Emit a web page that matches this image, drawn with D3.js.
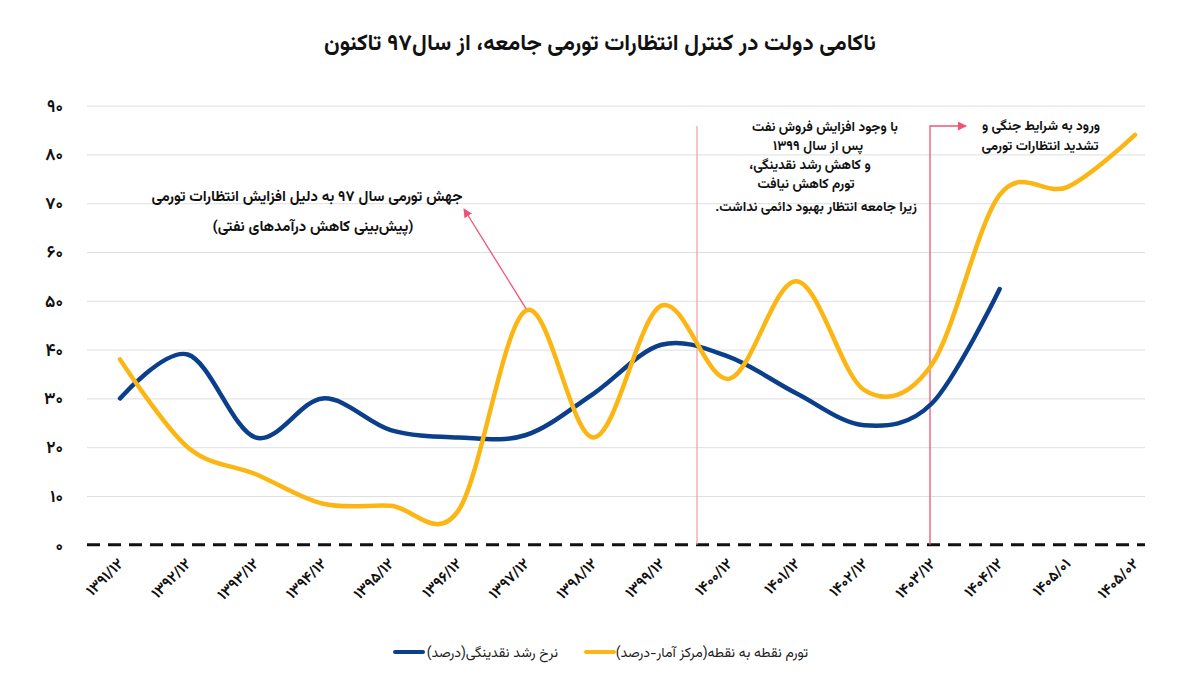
<!DOCTYPE html>
<html>
<head>
<meta charset="utf-8">
<script src="https://cdn.jsdelivr.net/npm/d3@7"></script>
<style>
  body { margin: 0; background: #fff; }
  svg text { font-family: "Vazirmatn", "Noto Sans Arabic", "DejaVu Sans", sans-serif; }
</style>
</head>
<body>
<div id="grafico"></div>
<script>
// categories (x axis) and the two series
var categories = ["۱۳۹۱/۱۲", "۱۳۹۲/۱۲", "۱۳۹۳/۱۲", "۱۳۹۴/۱۲", "۱۳۹۵/۱۲", "۱۳۹۶/۱۲", "۱۳۹۷/۱۲", "۱۳۹۸/۱۲",
  "۱۳۹۹/۱۲", "۱۴۰۰/۱۲", "۱۴۰۱/۱۲", "۱۴۰۲/۱۲", "۱۴۰۳/۱۲", "۱۴۰۴/۱۲", "۱۴۰۵/۰۱", "۱۴۰۵/۰۲"]
var liquidity = [30, 39, 22, 30, 23.5, 22, 22.5, 31, 41, 38.5, 31, 24.5, 29, 52.4]
var inflation = [38, 20, 14.5, 8.4, 8, 7, 48, 22, 49, 34, 54, 31.7, 37, 71.7, 73.3, 84]
var yTicks = [0, 10, 20, 30, 40, 50, 60, 70, 80, 90]

var seriesNames = ["تورم نقطه به نقطه(مرکز آمار-درصد)", "نرخ رشد نقدینگی(درصد)"]
var title = "ناکامی دولت در کنترل انتظارات تورمی جامعه، از سال۹۷ تاکنون"

var width = 1200,
    height = 674
var blue = "#0b3f8c", yellow = "#fbb614", pink = "#ee5575"

// persian digits
function fa(s) {
  return String(s).replace(/[0-9]/g, function(d) { return "۰۱۲۳۴۵۶۷۸۹"[+d] })
}

var svg = d3.select("#grafico")
  .append("svg")
    .attr("width", width)
    .attr("height", height)

svg.append("defs").append("marker")
    .attr("id", "arr")
    .attr("viewBox", "0 0 10 10")
    .attr("refX", 9).attr("refY", 5)
    .attr("markerWidth", 9).attr("markerHeight", 9)
    .attr("markerUnits", "userSpaceOnUse")
    .attr("orient", "auto")
  .append("path")
    .attr("d", "M0,0L10,5L0,10z")
    .attr("fill", pink)

var x = d3.scalePoint().domain(categories).range([120, 1135])
var y = d3.scaleLinear().domain([0, 90]).range([544.8, 105.6])

// title
svg.append("text")
  .attr("x", 600).attr("y", 50)
  .attr("text-anchor", "middle")
  .attr("direction", "rtl")
  .attr("font-size", 22.5)
  .attr("font-weight", "bold")
  .attr("fill", "#111")
  .text(title)

// grid + y labels
var yAxis = d3.axisLeft(y).tickValues(yTicks).tickSize(-(1145 - 87)).tickFormat(fa)
var gy = svg.append("g")
  .attr("transform", "translate(87,0)")
  .call(yAxis)
gy.select(".domain").remove()
gy.selectAll(".tick line")
  .attr("stroke", function(d) { return d === 0 ? "none" : "#dfdfdf" })
gy.selectAll(".tick text")
  .attr("x", -24)
  .attr("font-size", 17)
  .attr("font-weight", "bold")
  .attr("fill", "#111")

// dashed zero line
svg.append("line")
  .attr("x1", 87).attr("x2", 1145)
  .attr("y1", y(0)).attr("y2", y(0))
  .attr("stroke", "#111")
  .attr("stroke-width", 3)
  .attr("stroke-dasharray", "13,8")

// x labels
var xAxis = d3.axisBottom(x).tickSize(0).tickFormat(function(d) { return d })
var gx = svg.append("g")
  .attr("transform", "translate(0," + y(0) + ")")
  .call(xAxis)
gx.select(".domain").remove()
gx.selectAll(".tick text")
  .attr("text-anchor", "end")
  .attr("font-size", 15)
  .attr("font-weight", "bold")
  .attr("fill", "#111")
  .attr("transform", "translate(0,16) rotate(-45)")
  .attr("dy", "0.35em")
  .attr("y", 0)

// pink annotation lines
svg.append("line")
  .attr("x1", 697).attr("x2", 697)
  .attr("y1", 126).attr("y2", y(0))
  .attr("stroke", "#f3a0b2").attr("stroke-width", 1.3)
svg.append("path")
  .attr("d", "M930," + y(0) + "V126H966")
  .attr("fill", "none")
  .attr("stroke", pink).attr("stroke-width", 1.3)
  .attr("marker-end", "url(#arr)")

// lines
var line = d3.line()
  .x(function(d, i) { return x(categories[i]) })
  .y(function(d) { return y(d) })
  .curve(d3.curveCardinal.tension(0))

svg.append("path")
  .datum(liquidity)
  .attr("d", line)
  .attr("fill", "none")
  .attr("stroke", blue)
  .attr("stroke-width", 4.5)
  .attr("stroke-linecap", "round")

svg.append("path")
  .datum(inflation)
  .attr("d", line)
  .attr("fill", "none")
  .attr("stroke", yellow)
  .attr("stroke-width", 4.5)
  .attr("stroke-linecap", "round")

// arrow to the 97 jump
svg.append("line")
  .attr("x1", x(categories[6])).attr("y1", y(inflation[6]) - 2)
  .attr("x2", 464).attr("y2", 209)
  .attr("stroke", pink).attr("stroke-width", 1.3)
  .attr("marker-end", "url(#arr)")

// annotation texts
function note(lines, size) {
  lines.forEach(function(l) {
    svg.append("text")
      .attr("x", l[0]).attr("y", l[1])
      .attr("text-anchor", "middle")
      .attr("direction", "rtl")
      .attr("font-size", size)
      .attr("font-weight", "bold")
      .attr("fill", "#111")
      .text(l[2])
  })
}
note([
  [307, 201, "جهش تورمی سال ۹۷ به دلیل افزایش انتظارات تورمی"],
  [313, 231, "(پیش‌بینی کاهش درآمدهای نفتی)"]
], 15)
note([
  [825, 131, "با وجود افزایش فروش نفت"],
  [818, 150, "پس از سال ۱۳۹۹"],
  [810, 169, "و کاهش رشد نقدینگی،"],
  [806, 188, "تورم کاهش نیافت"],
  [816, 211, "زیرا جامعه انتظار بهبود دائمی نداشت."]
], 13.5)
note([
  [1041, 130, "ورود به شرایط جنگی و"],
  [1040, 149.5, "تشدید انتظارات تورمی"]
], 13.5)

// legend
var legend = [
  { name: seriesNames[0], color: yellow, x0: 586, tx: 808 },
  { name: seriesNames[1], color: blue, x0: 395, tx: 558 }
]
legend.forEach(function(l) {
  svg.append("line")
    .attr("x1", l.x0).attr("x2", l.x0 + 28)
    .attr("y1", 652).attr("y2", 652)
    .attr("stroke", l.color).attr("stroke-width", 4)
    .attr("stroke-linecap", "round")
  svg.append("text")
    .attr("x", l.tx).attr("y", 657)
    .attr("text-anchor", "start")
    .attr("direction", "rtl")
    .attr("font-size", 14)
    .attr("fill", "#222")
    .text(l.name)
})
</script>
</body>
</html>
